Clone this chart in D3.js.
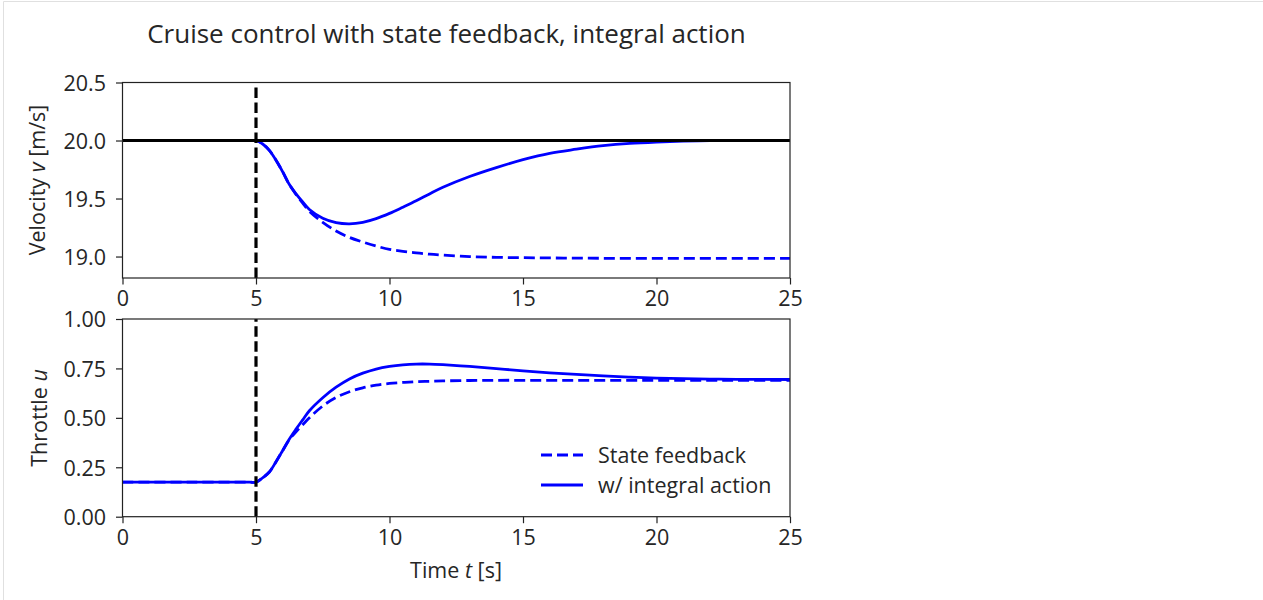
<!DOCTYPE html>
<html>
<head>
<meta charset="utf-8">
<script src="https://cdn.jsdelivr.net/npm/d3@7"></script>
<style>
	body{margin:0;background:#fff}
	text{font-family:"Open Sans","Noto Sans",sans-serif;fill:#262626}
</style>
</head>
<body>
<svg id="fig" width="1263" height="600"></svg>
<script>
// sample times (s)
const tSamples = [0, 2.5, 4.75, 5, 5.25, 5.5, 5.75, 6, 6.25, 6.5, 6.75, 7, 7.5, 8, 8.5, 9, 9.5, 10, 10.5, 11, 11.5, 12, 13, 14, 15, 16, 17, 18, 19, 20, 21, 22, 23, 25]
// velocity [m/s]
const velStateFb = [20, 20, 20, 20, 19.97, 19.915, 19.83, 19.73, 19.62, 19.535, 19.46, 19.39, 19.295, 19.22, 19.165, 19.125, 19.09, 19.062, 19.045, 19.032, 19.02, 19.012, 19.0, 18.993, 18.99, 18.988, 18.986, 18.985, 18.985, 18.985, 18.985, 18.985, 18.985, 18.985]
const velIntegral = [20, 20, 20, 20, 19.97, 19.915, 19.83, 19.73, 19.62, 19.54, 19.47, 19.405, 19.33, 19.292, 19.282, 19.295, 19.327, 19.372, 19.425, 19.48, 19.54, 19.597, 19.69, 19.767, 19.835, 19.89, 19.925, 19.955, 19.975, 19.987, 19.995, 20, 20, 20]
// throttle u
const thrStateFb = [0.175, 0.175, 0.175, 0.175, 0.197, 0.226, 0.278, 0.335, 0.39, 0.43, 0.465, 0.5, 0.56, 0.603, 0.632, 0.652, 0.665, 0.674, 0.679, 0.683, 0.685, 0.687, 0.689, 0.69, 0.69, 0.69, 0.69, 0.69, 0.69, 0.69, 0.69, 0.69, 0.69, 0.69]
const thrIntegral = [0.175, 0.175, 0.175, 0.175, 0.197, 0.226, 0.278, 0.335, 0.393, 0.443, 0.49, 0.536, 0.602, 0.655, 0.697, 0.726, 0.747, 0.76, 0.768, 0.772, 0.772, 0.769, 0.76, 0.749, 0.738, 0.728, 0.72, 0.712, 0.706, 0.701, 0.698, 0.696, 0.695, 0.694]

const vRef = 20
const tDisturb = 5
const timeTicks = [0, 5, 10, 15, 20, 25]
const velTicks = [19.0, 19.5, 20.0, 20.5]
const thrTicks = [0, 0.25, 0.5, 0.75, 1.0]
const legendLabels = ["State feedback", "w/ integral action"]

const svg = d3.select("#fig")
const fs = 21.5

// notebook cell border
svg.append("path")
	.attr("d", "M3.5,600V1.5H1263")
	.attr("fill", "none")
	.attr("stroke", "#e0e0e0")

const x = d3.scaleLinear().domain([0, 25]).range([122.5, 790])
const yV = d3.scaleLinear().domain([18.815, 20.5]).range([278, 82.5])
const yU = d3.scaleLinear().domain([0, 1]).range([516.7, 319])

function panel(y, yTicks, yFmt){
	let g = svg.append("g")
	let [y0, y1] = y.range()
	// x axis
	g.append("g")
		.attr("transform", `translate(0,${y0})`)
		.call(d3.axisBottom(x).tickValues(timeTicks).tickSize(6.5).tickSizeOuter(0).tickPadding(6))
		.call(a=>{
			a.select(".domain").remove()
			a.selectAll("line").attr("stroke", "#222").attr("stroke-width", 1.2)
			a.selectAll("text").attr("font-size", fs).attr("fill", "#262626").attr("dy", "0.72em")
		})
	// y axis
	g.append("g")
		.attr("transform", `translate(${x.range()[0]},0)`)
		.call(d3.axisLeft(y).tickValues(yTicks).tickFormat(d3.format(yFmt)).tickSize(6.5).tickSizeOuter(0).tickPadding(10))
		.call(a=>{
			a.select(".domain").remove()
			a.selectAll("line").attr("stroke", "#222").attr("stroke-width", 1.2)
			a.selectAll("text").attr("font-size", fs).attr("fill", "#262626").attr("dy", "0.36em")
		})
	return g
}

function drawSeries(g, y, vals, dashed){
	let line = d3.line()
		.x((d, i)=>x(tSamples[i]))
		.y(d=>y(d))
		.curve(d3.curveCatmullRom.alpha(0.5))
	g.append("path")
		.datum(vals)
		.attr("d", line)
		.attr("fill", "none")
		.attr("stroke", "#0000ff")
		.attr("stroke-width", 2.8)
		.attr("stroke-dasharray", dashed ? "11,5" : null)
}

function frame(g, y){
	let [y0, y1] = y.range()
	g.append("rect")
		.attr("x", x.range()[0])
		.attr("y", y1)
		.attr("width", x.range()[1]-x.range()[0])
		.attr("height", y0-y1)
		.attr("fill", "none")
		.attr("stroke", "#222")
		.attr("stroke-width", 1.2)
}

function disturbLine(g, y){
	let [y0, y1] = y.range()
	g.append("line")
		.attr("x1", x(tDisturb)).attr("x2", x(tDisturb))
		.attr("y1", y0).attr("y2", y1)
		.attr("stroke", "#000")
		.attr("stroke-width", 3.2)
		.attr("stroke-dasharray", "10.5,4.5")
}

// top panel: velocity
let velPanel = panel(yV, velTicks, ".1f")
drawSeries(velPanel, yV, velStateFb, true)
drawSeries(velPanel, yV, velIntegral, false)
velPanel.append("line")
	.attr("x1", x(0)).attr("x2", x(25))
	.attr("y1", yV(vRef)).attr("y2", yV(vRef))
	.attr("stroke", "#000")
	.attr("stroke-width", 3.2)
disturbLine(velPanel, yV)
frame(velPanel, yV)

// bottom panel: throttle
let thrPanel = panel(yU, thrTicks, ".2f")
drawSeries(thrPanel, yU, thrStateFb, true)
drawSeries(thrPanel, yU, thrIntegral, false)
disturbLine(thrPanel, yU)
frame(thrPanel, yU)

// axis labels
let vLab = svg.append("text")
	.attr("transform", "translate(45,180) rotate(-90)")
	.attr("text-anchor", "middle")
	.attr("font-size", fs)
vLab.append("tspan").text("Velocity ")
vLab.append("tspan").attr("font-style", "italic").text("v")
vLab.append("tspan").text(" [m/s]")

let uLab = svg.append("text")
	.attr("transform", "translate(47,418) rotate(-90)")
	.attr("text-anchor", "middle")
	.attr("font-size", fs)
uLab.append("tspan").text("Throttle ")
uLab.append("tspan").attr("font-style", "italic").text("u")

let tLab = svg.append("text")
	.attr("x", 456)
	.attr("y", 578)
	.attr("text-anchor", "middle")
	.attr("font-size", fs)
tLab.append("tspan").text("Time ")
tLab.append("tspan").attr("font-style", "italic").text("t")
tLab.append("tspan").text(" [s]")

// title
svg.append("text")
	.attr("x", 446.5)
	.attr("y", 43)
	.attr("text-anchor", "middle")
	.attr("font-size", 26)
	.text("Cruise control with state feedback, integral action")

// legend
let leg = svg.append("g")
legendLabels.forEach((lab, i)=>{
	let ly = 455+i*30
	leg.append("line")
		.attr("x1", 541).attr("x2", 583)
		.attr("y1", ly).attr("y2", ly)
		.attr("stroke", "#0000ff")
		.attr("stroke-width", 2.8)
		.attr("stroke-dasharray", i===0 ? "11,5" : null)
	leg.append("text")
		.attr("x", 598)
		.attr("y", ly+8)
		.attr("font-size", fs)
		.text(lab)
})
</script>
</body>
</html>
